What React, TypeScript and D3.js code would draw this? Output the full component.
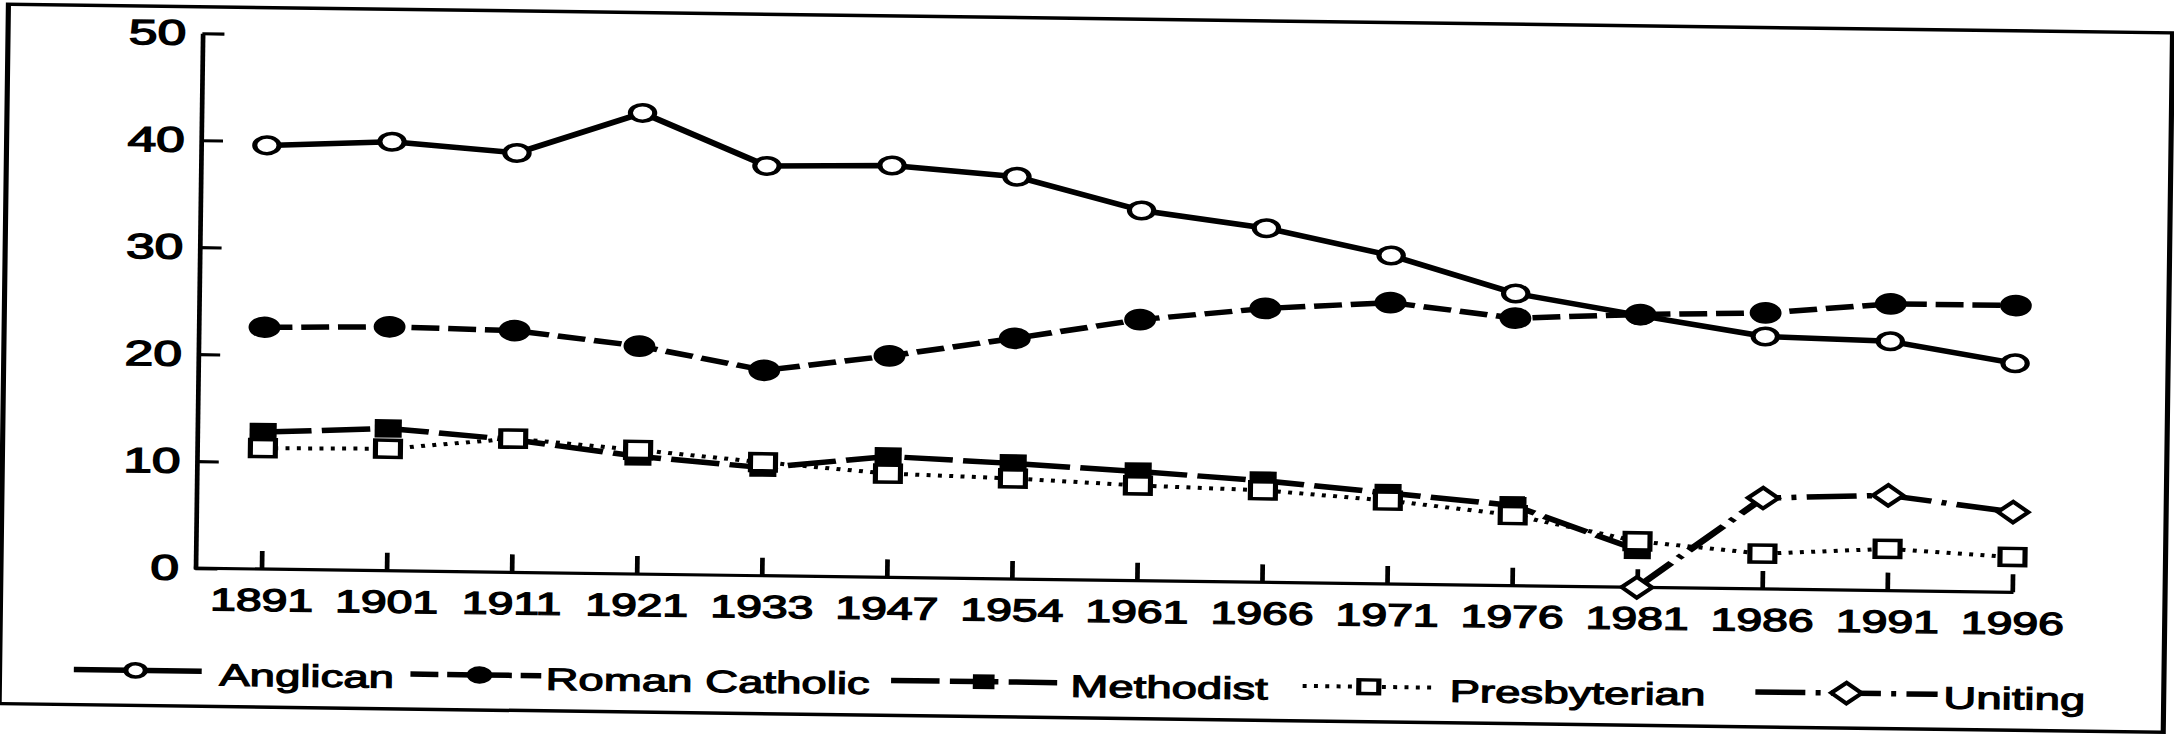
import { useEffect, useRef } from "react";
import * as d3 from "d3";

// census years and religious affiliation (% of population)
const years = ["1891", "1901", "1911", "1921", "1933", "1947", "1954", "1961", "1966", "1971", "1976", "1981", "1986", "1991", "1996"];
const anglican = [39.6, 40.1, 39.2, 43.1, 38.3, 38.5, 37.6, 34.6, 33.1, 30.7, 27.3, 25.4, 23.6, 23.3, 21.4];
const romanCatholic = [22.6, 22.8, 22.6, 21.3, 19.2, 20.7, 22.5, 24.4, 25.6, 26.3, 25.0, 25.5, 25.8, 26.8, 26.8];
const methodist = [12.8, 13.3, 12.4, 11.0, 10.1, 11.3, 10.8, 10.2, 9.5, 8.5, 7.5, 3.5, null, null, null];
const presbyterian = [11.3, 11.4, 12.5, 11.6, 10.6, 9.7, 9.4, 8.9, 8.6, 7.8, 6.6, 4.3, 3.3, 3.9, 3.3];
const uniting = [null, null, null, null, null, null, null, null, null, null, null, 0, 8.5, 8.9, 7.5];
const yTicks = [0, 10, 20, 30, 40, 50];
const seriesNames = ["Anglican", "Roman Catholic", "Methodist", "Presbyterian", "Uniting"];
const seriesValues = [anglican, romanCatholic, methodist, presbyterian, uniting];

const W = 2174;
const H = 738;
const SX = 1.47; // the scan is stretched sideways
const TILT = 0.76; // and slightly rotated
const FONT = "'Liberation Sans', Arial, Helvetica, sans-serif";

type Style = { dash: string | null; symbol: d3.SymbolType; size: number; fill: string; rot: number; sw: number; lw: number };
const styles: Record<string, Style> = {
  Anglican: { dash: null, symbol: d3.symbolCircle, size: 215, fill: "#fff", rot: 0, sw: 3.5, lw: 5.5 },
  "Roman Catholic": { dash: "19 6", symbol: d3.symbolCircle, size: 370, fill: "#000", rot: 0, sw: 0, lw: 5.5 },
  Methodist: { dash: "33 7", symbol: d3.symbolSquare, size: 340, fill: "#000", rot: 0, sw: 0, lw: 5.5 },
  Presbyterian: { dash: "2.7 5", symbol: d3.symbolSquare, size: 289, fill: "#fff", rot: 0, sw: 3.5, lw: 4 },
  Uniting: { dash: "34 7 3.4 7", symbol: d3.symbolSquare, size: 215, fill: "#fff", rot: 45, sw: 3.5, lw: 5.5 },
};

// legend layout: line start, line end, marker, text start
const legendLayout = [
  [53, 140, 95, 152],
  [282, 371, 329, 374],
  [609, 724, 672, 731],
  [889, 979, 934, 989],
  [1197, 1321, 1259, 1325],
];

export default function App() {
  const ref = useRef<SVGSVGElement | null>(null);

  useEffect(() => {
    if (!ref.current) return;
    const svg = d3.select(ref.current);
    svg.selectAll("*").remove();

    svg.append("rect").attr("width", W).attr("height", H).attr("fill", "#fff");

    const g = svg
      .append("g")
      .attr("transform", `rotate(${TILT} ${W / 2} ${H / 2}) scale(${SX} 1)`);

    // outer frame
    g.append("rect")
      .attr("x", 2.5)
      .attr("y", 18.5)
      .attr("width", 1472.3)
      .attr("height", 699.5)
      .attr("fill", "none")
      .attr("stroke", "#000")
      .attr("stroke-width", 3.5);

    const axisX = 134.7;
    const x = d3.scalePoint<string>().domain(years).range([179.6, 1370.7]);
    const y = d3.scaleLinear().domain([0, 50]).range([580, 45]);

    // Y axis
    const yAxis = g
      .append("g")
      .attr("transform", `translate(${axisX},0)`)
      .call(d3.axisLeft(y).tickValues(yTicks).tickSize(-15).tickSizeOuter(0).tickPadding(11));
    yAxis.select(".domain").attr("stroke-width", 3.2);
    yAxis.selectAll(".tick line").attr("stroke-width", 3.2);
    yAxis
      .selectAll(".tick text")
      .attr("font-family", FONT)
      .attr("font-size", 35)
      .attr("fill", "#000")
      .attr("stroke", "#000")
      .attr("stroke-width", 1.4);

    // X axis
    const xAxis = g
      .append("g")
      .attr("transform", `translate(0,${y(0)})`)
      .call(d3.axisBottom(x).tickSize(-18).tickSizeOuter(0).tickPadding(19.5));
    xAxis.select(".domain").remove();
    xAxis
      .append("line")
      .attr("x1", axisX - 1)
      .attr("x2", x(years[years.length - 1])! + 1)
      .attr("stroke", "#000")
      .attr("stroke-width", 3.2);
    xAxis.selectAll(".tick line").attr("stroke-width", 3.2);
    xAxis
      .selectAll(".tick text")
      .attr("font-family", FONT)
      .attr("font-size", 31.5)
      .attr("fill", "#000")
      .attr("stroke", "#000")
      .attr("stroke-width", 1.3);

    const line = d3
      .line<number | null>()
      .defined((d) => d != null)
      .x((_, i) => x(years[i])!)
      .y((d) => y(d as number));

    const drawMarker = (sel: d3.Selection<SVGGElement, unknown, null, undefined>, st: Style, cx: number, cy: number, k = 1) => {
      sel
        .append("path")
        .attr("d", d3.symbol().type(st.symbol).size(st.size * k * k)())
        .attr("transform", `translate(${cx},${cy}) rotate(${st.rot})`)
        .attr("fill", st.fill)
        .attr("stroke", "#000")
        .attr("stroke-width", st.sw);
    };

    seriesNames.forEach((name, si) => {
      const st = styles[name];
      const vals = seriesValues[si];
      const sg = g.append("g");
      sg.append("path")
        .attr("d", line(vals))
        .attr("fill", "none")
        .attr("stroke", "#000")
        .attr("stroke-width", st.lw)
        .attr("stroke-linejoin", "round")
        .attr("stroke-dasharray", st.dash);
      vals.forEach((v, i) => {
        if (v == null) return;
        drawMarker(sg, st, x(years[i])!, y(v));
      });
    });

    // legend
    const legendBase = 697;
    const legendMid = 683;
    const lg = g.append("g");
    seriesNames.forEach((name, i) => {
      const st = styles[name];
      const [x0, x1, mx, tx] = legendLayout[i];
      lg.append("line")
        .attr("x1", x0)
        .attr("x2", x1)
        .attr("y1", legendMid)
        .attr("y2", legendMid)
        .attr("stroke", "#000")
        .attr("stroke-width", st.lw)
        .attr("stroke-dasharray", st.dash);
      drawMarker(lg, st, mx, legendMid, name === "Uniting" ? 1 : 0.8);
      lg.append("text")
        .attr("x", tx)
        .attr("y", legendBase)
        .attr("font-family", FONT)
        .attr("font-size", 31)
        .attr("fill", "#000")
        .attr("stroke", "#000")
        .attr("stroke-width", 1.1)
        .text(name);
    });
  }, []);

  return (
    <svg
      ref={ref}
      width={W}
      height={H}
      style={{ position: "absolute", left: 0, top: 0, display: "block" }}
    />
  );
}
